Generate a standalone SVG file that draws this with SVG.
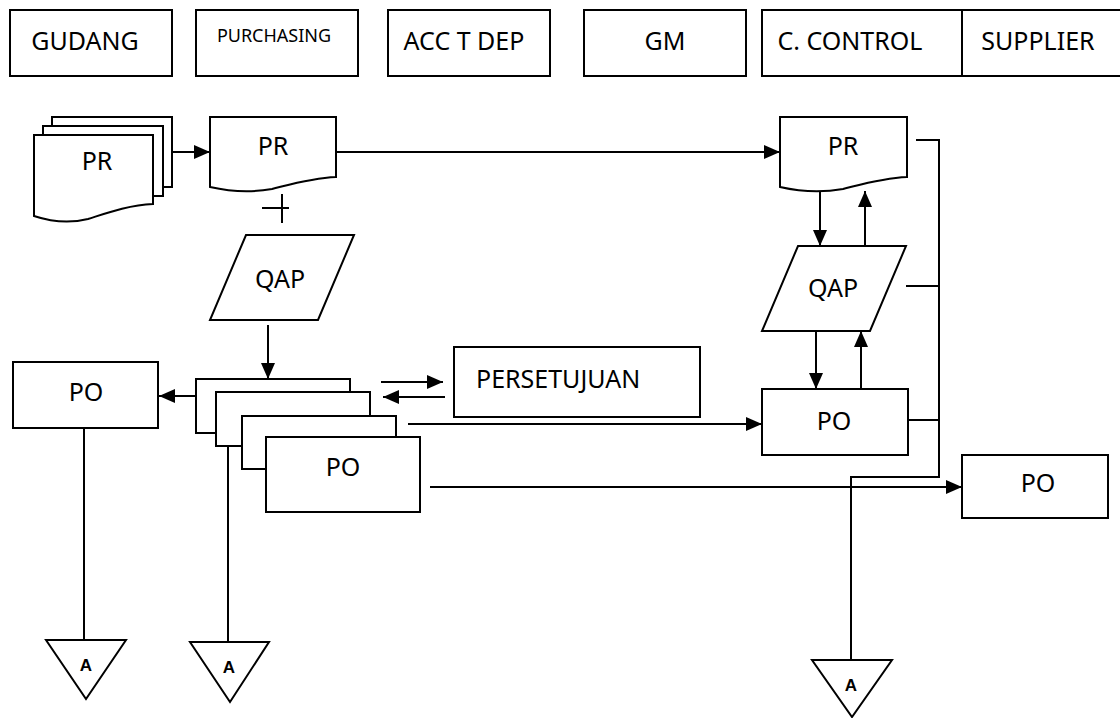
<svg xmlns="http://www.w3.org/2000/svg" width="1120" height="718" viewBox="0 0 1120 718">
<defs>
<marker id="arr" viewBox="0 0 16 14" refX="16" refY="7" markerWidth="16" markerHeight="14" markerUnits="userSpaceOnUse" orient="auto">
<path d="M0,0 L16,7 L0,14 Z" fill="#000"/>
</marker>
<style>
.s{fill:#fff;stroke:#000;stroke-width:2}
.l{fill:none;stroke:#000;stroke-width:2}
.t{font-family:"Noto Sans","Open Sans",sans-serif;font-size:25px;fill:#000;text-anchor:middle}
.a{font-family:"Liberation Sans",Arial,sans-serif;font-size:17px;font-weight:bold;fill:#000;text-anchor:middle}
</style>
</defs>
<rect width="1120" height="718" fill="#fff"/>
<g id="header">
<g id="h-gudang"><rect class="s" x="10" y="10" width="162" height="66"/><text class="t" x="85" y="50">GUDANG</text></g>
<g id="h-purchasing"><rect class="s" x="196" y="10" width="162" height="66"/><text class="t" x="274" y="42" style="font-size:18px">PURCHASING</text></g>
<g id="h-acc"><rect class="s" x="388" y="10" width="162" height="66"/><text class="t" x="464" y="50">ACC T DEP</text></g>
<g id="h-gm"><rect class="s" x="584" y="10" width="162" height="66"/><text class="t" x="665" y="50">GM</text></g>
<g id="h-cc"><rect class="s" x="762" y="10" width="200" height="66"/><text class="t" x="850" y="50">C. CONTROL</text></g>
<g id="h-supplier"><path class="s" d="M1122,10 H962 V76 H1122"/><text class="t" x="1038" y="50">SUPPLIER</text></g>
</g>
<g id="connectors">
<line class="l" x1="172" y1="152" x2="210" y2="152" marker-end="url(#arr)"/>
<line class="l" x1="336" y1="152" x2="780" y2="152" marker-end="url(#arr)"/>
<line class="l" x1="282" y1="194" x2="282" y2="223"/>
<line class="l" x1="262" y1="208" x2="289" y2="208"/>
<line class="l" x1="268" y1="325" x2="268" y2="379" marker-end="url(#arr)"/>
<line class="l" x1="196" y1="396" x2="159" y2="396" marker-end="url(#arr)"/>
<line class="l" x1="381" y1="382" x2="443" y2="382" marker-end="url(#arr)"/>
<line class="l" x1="445" y1="397" x2="383" y2="397" marker-end="url(#arr)"/>
<line class="l" x1="408" y1="424" x2="762" y2="424" marker-end="url(#arr)"/>
<line class="l" x1="430" y1="487" x2="962" y2="487" marker-end="url(#arr)"/>
<line class="l" x1="820" y1="191" x2="820" y2="246" marker-end="url(#arr)"/>
<line class="l" x1="865" y1="246" x2="865" y2="191" marker-end="url(#arr)"/>
<line class="l" x1="816" y1="331" x2="816" y2="389" marker-end="url(#arr)"/>
<line class="l" x1="861" y1="389" x2="861" y2="331" marker-end="url(#arr)"/>
<path class="l" d="M916,140 H939 V477 H851 V660"/>
<line class="l" x1="906" y1="286" x2="939" y2="286"/>
<line class="l" x1="908" y1="420" x2="939" y2="420"/>
<line class="l" x1="84" y1="428" x2="84" y2="640"/>
<line class="l" x1="228" y1="446" x2="228" y2="642"/>
</g>
<g id="pr-stack">
<rect class="s" x="52" y="117" width="120" height="70"/>
<rect class="s" x="43" y="126" width="120" height="70"/>
<path class="s" d="M34,135 H153 V204 C128,205 104,214 88,219 C72,223 52,222 34,216 Z"/>
<text class="t" x="97" y="170">PR</text>
</g>
<g id="pr-purchasing">
<path class="s" d="M210,117 H336 V177 C312,178 292,184 272,189 C255,192 232,192 210,187 Z"/>
<text class="t" x="273" y="155">PR</text>
</g>
<g id="qap-purchasing">
<path class="s" d="M246,235 H354 L318,320 H210 Z"/>
<text class="t" x="280" y="288">QAP</text>
</g>
<g id="po-gudang">
<rect class="s" x="13" y="362" width="145" height="66"/>
<text class="t" x="86" y="401">PO</text>
</g>
<g id="po-stack">
<rect class="s" x="196" y="379" width="154" height="54"/>
<rect class="s" x="216" y="392" width="154" height="54"/>
<rect class="s" x="242" y="416" width="154" height="53"/>
<rect class="s" x="266" y="437" width="154" height="75"/>
<text class="t" x="343" y="476">PO</text>
</g>
<g id="persetujuan">
<rect class="s" x="454" y="347" width="246" height="70"/>
<text class="t" x="476" y="388" style="text-anchor:start">PERSETUJUAN</text>
</g>
<g id="pr-cc">
<path class="s" d="M780,117 H907 V177 C883,178 863,184 843,189 C826,192 802,192 780,187 Z"/>
<text class="t" x="843" y="155">PR</text>
</g>
<g id="qap-cc">
<path class="s" d="M798,246 H906 L870,331 H762 Z"/>
<text class="t" x="833" y="297">QAP</text>
</g>
<g id="po-cc">
<rect class="s" x="762" y="389" width="146" height="66"/>
<text class="t" x="834" y="430">PO</text>
</g>
<g id="po-supplier">
<rect class="s" x="962" y="455" width="146" height="63"/>
<text class="t" x="1038" y="492">PO</text>
</g>
<g id="conn-a1">
<path class="s" d="M46,640 H126 L86,699 Z"/>
<text class="a" x="86" y="671">A</text>
</g>
<g id="conn-a2">
<path class="s" d="M190,642 H269 L230,702 Z"/>
<text class="a" x="229" y="673">A</text>
</g>
<g id="conn-a3">
<path class="s" d="M812,660 H892 L852,717 Z"/>
<text class="a" x="851" y="691">A</text>
</g>
</svg>
